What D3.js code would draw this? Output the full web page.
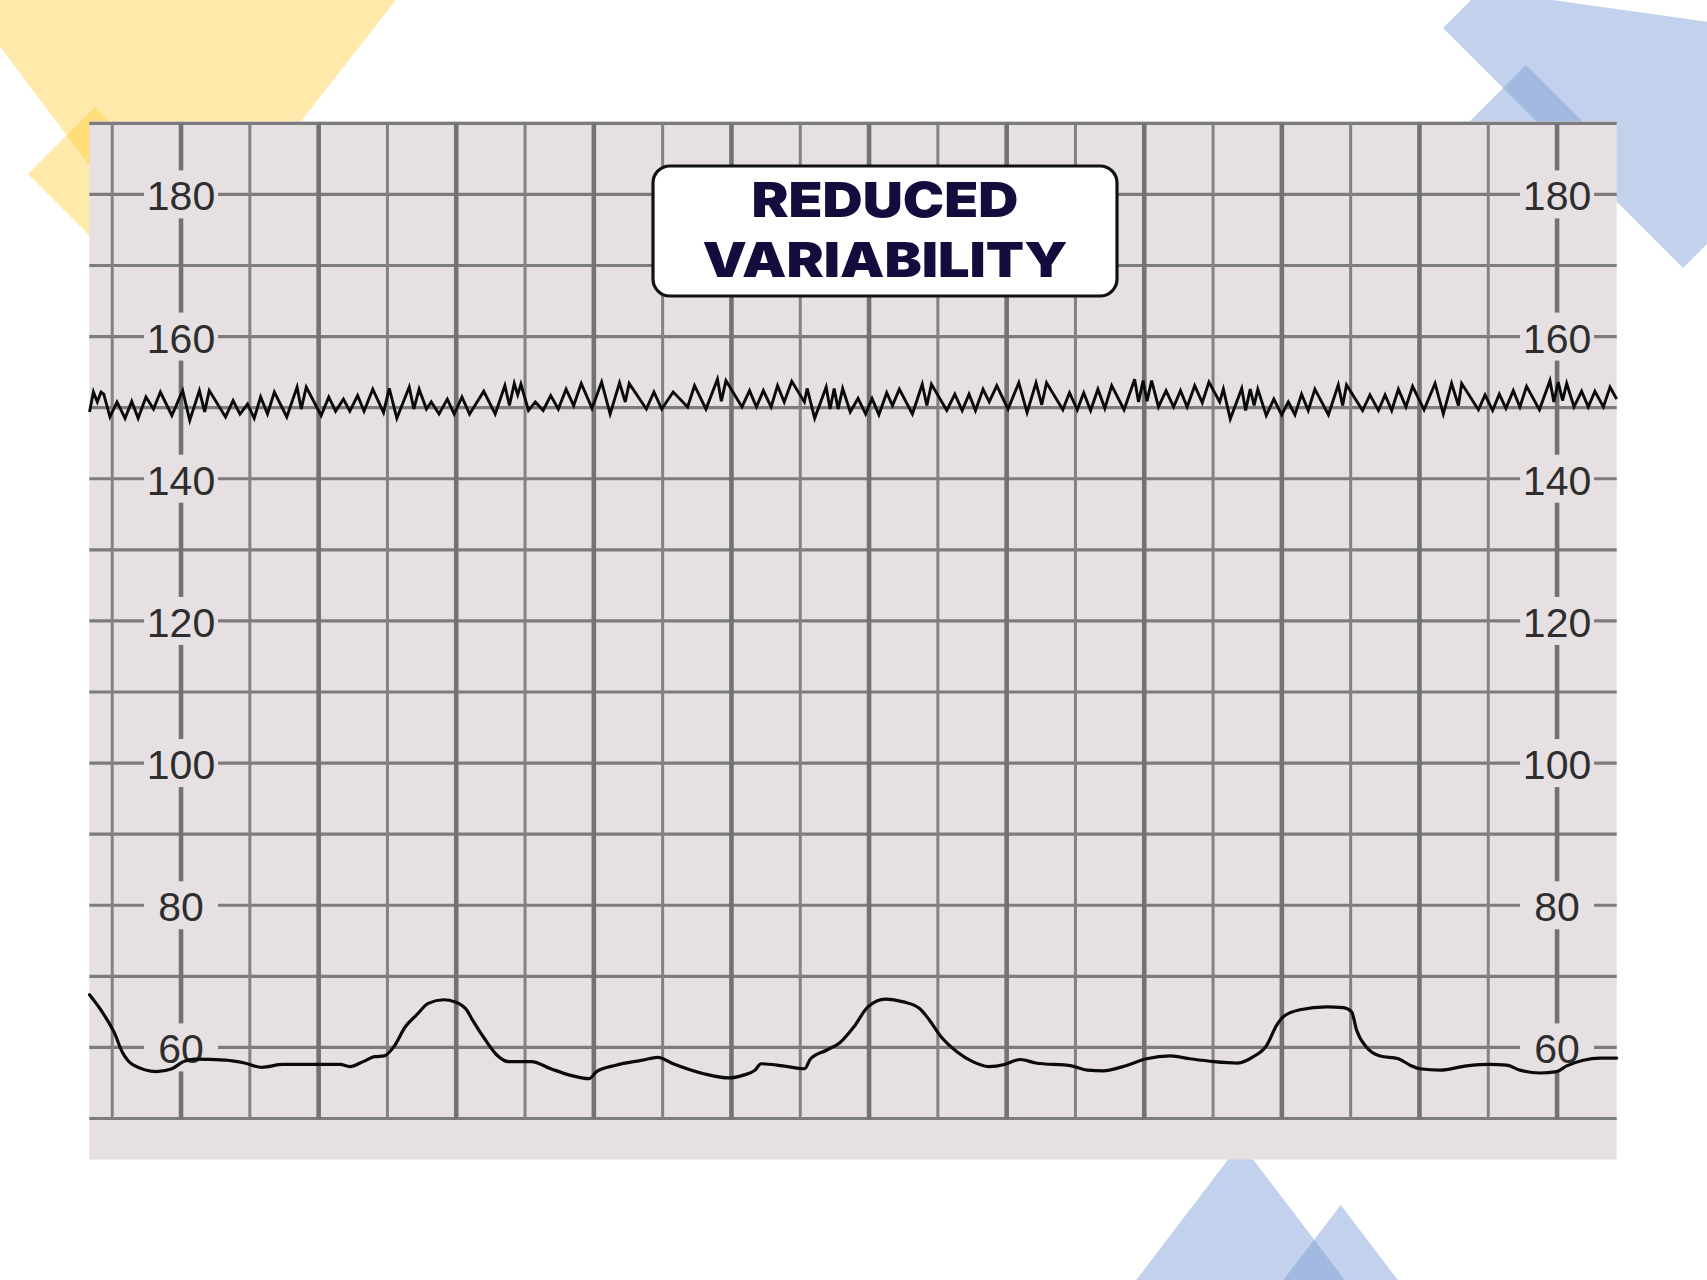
<!DOCTYPE html>
<html>
<head>
<meta charset="utf-8">
<script src="https://cdn.jsdelivr.net/npm/d3@7"></script>
<style>
  html, body { margin: 0; padding: 0; background: #ffffff; }
  svg { display: block; }
</style>
</head>
<body>
<svg id="chart" width="1707" height="1280"></svg>
<script>
// ---------- DATA ----------
const titleLines = ["REDUCED", "VARIABILITY"];
const bpmLabels = [60, 80, 100, 120, 140, 160, 180];
const bpmGrid = [50, 60, 70, 80, 90, 100, 110, 120, 130, 140, 150, 160, 170, 180, 190];
const timeGrid = [30, 60, 90, 120, 150, 180, 210, 240, 270, 300, 330, 360, 390, 420, 450, 480, 510, 540, 570, 600, 630, 660];
const labelTimes = [60, 660];

// FHR trace (seconds, bpm)
const fhrTime = [20.1,21.8,23.5,25.1,26.3,29.0,32.1,35.6,38.5,41.3,44.7,48.0,51.0,56.0,60.7,63.8,68.0,70.3,72.3,79.4,82.7,85.7,89.0,91.9,94.7,97.7,100.7,106.1,110.6,112.4,114.6,121.1,124.4,127.4,130.8,133.6,137.0,139.8,143.6,148.3,150.8,154.1,159.5,161.5,163.8,167.0,169.1,172.5,176.1,179.1,182.5,185.8,192.0,197.0,201.2,203.2,205.3,206.8,208.2,211.5,214.5,217.9,221.2,224.5,227.9,231.2,234.5,239.2,243.4,247.1,251.2,253.7,255.4,262.9,266.2,269.6,274.6,280.9,283.9,288.9,293.9,295.6,297.6,304.6,307.9,310.9,313.9,317.3,320.1,323.0,326.3,331.8,333.0,336.3,341.3,343.0,344.8,346.5,348.5,351.8,355.2,358.5,361.3,364.3,367.7,370.2,373.2,378.9,383.2,385.2,387.2,393.9,397.4,400.6,403.6,406.4,409.7,412.4,415.7,420.6,425.3,428.9,432.8,435.3,437.4,444.5,447.4,450.8,453.6,456.6,459.8,462.8,465.8,471.2,475.8,477.5,479.5,481.2,483.2,486.2,489.5,492.8,495.8,498.7,502.0,505.3,508.2,512.9,514.5,517.5,522.5,524.2,526.2,527.9,529.5,533.2,536.5,539.9,542.8,545.7,548.6,551.5,554.4,560.3,564.6,566.5,568.2,575.2,578.4,582.1,585.0,587.9,590.8,594.1,597.0,602.0,606.8,610.4,614.0,617.0,618.4,625.7,628.6,631.9,634.8,637.7,640.9,643.8,646.7,652.3,656.9,658.6,660.5,662.4,664.2,667.4,670.7,673.6,676.5,680.2,683.1,686.0];
const fhrBpm = [149.4,152.2,150.8,152.2,151.9,148.7,150.8,148.5,150.9,148.5,151.5,149.8,152.2,148.9,152.4,148.2,152.4,149.4,152.4,148.7,151.0,149.1,150.5,148.5,151.5,149.1,152.2,148.7,152.9,149.8,152.9,148.9,151.5,149.5,151.2,149.5,151.7,149.5,152.6,149.3,152.7,148.5,152.9,149.8,152.6,149.8,150.8,149.1,151.2,149.1,151.5,149.1,152.3,149.1,153.1,150.3,153.4,151.8,153.3,149.6,150.8,149.6,151.7,149.8,152.6,150.3,153.4,149.9,153.6,149.1,153.5,150.8,153.4,149.8,152.2,149.8,152.2,150.1,153.1,149.8,154.0,150.9,153.8,150.1,152.4,150.1,152.4,150.1,153.1,150.8,153.7,150.8,152.7,148.5,152.9,149.8,152.7,149.8,152.7,149.4,151.3,149.1,151.3,149.0,152.1,150.3,152.6,149.1,153.3,150.3,153.3,149.6,151.9,149.6,151.9,149.6,152.6,150.8,153.1,149.8,153.5,149.3,153.5,150.4,153.5,149.7,152.1,149.7,152.1,149.6,152.6,149.9,153.1,149.7,154.0,150.8,153.8,150.9,153.8,150.1,152.4,150.1,152.4,150.1,153.1,150.7,153.6,150.8,152.6,148.4,152.7,149.6,152.6,150.3,152.6,148.9,151.2,149.0,150.8,149.0,151.9,149.6,152.6,149.0,153.2,150.3,153.2,149.6,151.8,149.6,151.8,149.6,152.6,150.1,153.0,149.7,153.4,149.1,153.4,150.3,153.4,149.7,151.8,149.6,151.9,149.9,152.4,150.1,153.0,149.7,153.8,150.8,153.6,151.0,153.4,150.1,152.3,150.1,152.3,150.1,152.9,151.2];

// Lower trace (seconds, value on the same scale)
const lowTime = [20.1,26.0,31.0,34.3,39.3,49.3,56.0,61.0,66.0,79.4,87.7,95.2,104.4,119.4,129.4,133.6,139.4,144.4,148.6,152.8,157.8,162.8,167.8,174.5,179.5,184.5,187.0,192.8,197.8,202.8,212.8,221.2,229.5,237.9,241.2,249.6,261.2,267.9,274.6,287.9,299.1,305.2,310.3,312.9,322.4,331.9,334.5,341.4,347.4,353.4,359.5,367.2,375.0,381.9,386.2,391.4,398.3,405.2,412.1,419.0,424.1,425.9,432.7,448.3,455.2,462.1,470.7,481.0,491.4,500.0,510.3,520.7,527.6,533.4,537.7,540.6,547.9,559.5,566.8,570.4,572.6,577.0,582.8,590.8,595.9,600.2,609.0,620.6,630.7,638.0,643.8,652.5,659.8,664.2,671.4,678.7,686.0];
const lowVal = [67.4,64.8,62.0,59.4,57.5,56.6,57.0,58.0,58.35,58.2,57.8,57.2,57.6,57.6,57.6,57.3,58.0,58.7,58.8,60.1,62.9,64.6,66.2,66.7,66.4,65.3,63.9,61.0,58.9,58.0,58.0,57.0,56.1,55.6,56.6,57.5,58.2,58.6,57.7,56.3,55.7,56.1,56.8,57.7,57.4,57.0,58.4,59.6,60.7,62.9,65.7,66.8,66.4,65.5,63.9,61.5,59.4,58.0,57.3,57.6,58.2,58.3,57.8,57.4,56.8,56.7,57.3,58.4,58.8,58.4,58.0,57.8,58.7,60.3,63.1,64.3,65.3,65.7,65.6,65.0,62.4,60.0,58.8,58.4,57.5,57.0,56.8,57.4,57.6,57.5,56.8,56.4,56.6,57.4,58.2,58.5,58.5];

// ---------- LAYOUT ----------
const svg = d3.select("#chart");
const panel = { left: 89.3, right: 1616.7, bottom: 1159.5 };
const x = d3.scaleLinear().domain([20, 686]).range([panel.left, panel.right]);
const y = d3.scaleLinear().domain([60, 180]).range([1047.4, 194.4]);
const panelTop = y(190) - 2;

// ---------- BACKGROUND DECORATION ----------
const deco = svg.append("g");
const yellow = "#fecb2e", blue = "#7b9bd5";
function poly(pts, fill, op) {
  deco.append("polygon").attr("points", pts.map(p => p.join(",")).join(" "))
    .attr("fill", fill).attr("fill-opacity", op);
}
poly([[-35,0],[396,0],[176,281]], yellow, 0.4);
poly([[95,107],[162,174],[95,241],[28,174]], yellow, 0.4);
poly([[1443,28],[1481,-10],[1902,49],[1683,268]], blue, 0.45);
poly([[1526,65],[1606,145],[1526,225],[1446,145]], blue, 0.45);
poly([[1240.7,1143],[1360,1300],[1121,1300]], blue, 0.45);
poly([[1340.7,1205],[1413,1300],[1268,1300]], blue, 0.45);

// ---------- PANEL ----------
const paper = "#e7e0e3";
svg.append("rect")
  .attr("x", panel.left).attr("y", panelTop)
  .attr("width", panel.right - panel.left).attr("height", panel.bottom - panelTop)
  .attr("fill", paper);

const grid = svg.append("g");
grid.selectAll("line.h").data(bpmGrid).join("line")
  .attr("class", "h")
  .attr("x1", panel.left).attr("x2", panel.right)
  .attr("y1", d => y(d)).attr("y2", d => y(d))
  .attr("stroke", "#7c7c7c").attr("stroke-width", 3.2);

grid.selectAll("line.v").data(timeGrid).join("line")
  .attr("class", "v")
  .attr("x1", d => x(d)).attr("x2", d => x(d))
  .attr("y1", y(190)).attr("y2", y(50))
  .attr("stroke", d => d % 60 === 0 ? "#727272" : "#828282")
  .attr("stroke-width", d => d % 60 === 0 ? 4.6 : 3);

// ---------- LABELS ----------
const labelData = [];
labelTimes.forEach(t => bpmLabels.forEach(v => labelData.push({ t, v })));
const lab = svg.append("g");
lab.selectAll("rect").data(labelData).join("rect")
  .attr("x", d => x(d.t) - 37).attr("y", d => y(d.v) - 24)
  .attr("width", 74).attr("height", 48)
  .attr("fill", paper);
lab.selectAll("text").data(labelData).join("text")
  .attr("x", d => x(d.t)).attr("y", d => y(d.v) + 16)
  .attr("text-anchor", "middle")
  .attr("font-family", "'Liberation Sans', Arial, sans-serif")
  .attr("font-size", 41)
  .attr("fill", "#2e2e2e")
  .text(d => d.v);

// ---------- TRACES ----------
const fhr = fhrTime.map((t, i) => [t, fhrBpm[i]]);
const low = lowTime.map((t, i) => [t, lowVal[i]]);

svg.append("path")
  .datum(low)
  .attr("d", d3.line().x(d => x(d[0])).y(d => y(d[1])).curve(d3.curveMonotoneX))
  .attr("fill", "none").attr("stroke", "#0a0a0a").attr("stroke-width", 3.2)
  .attr("stroke-linejoin", "round").attr("stroke-linecap", "round");

svg.append("path")
  .datum(fhr)
  .attr("d", d3.line().x(d => x(d[0])).y(d => y(d[1])))
  .attr("fill", "none").attr("stroke", "#0a0a0a").attr("stroke-width", 2.9)
  .attr("stroke-linejoin", "miter").attr("stroke-miterlimit", 4);

// ---------- TITLE BOX ----------
const box = svg.append("g");
box.append("rect")
  .attr("x", 653).attr("y", 166).attr("width", 464).attr("height", 130)
  .attr("rx", 17).attr("ry", 17)
  .attr("fill", "#ffffff").attr("stroke", "#111111").attr("stroke-width", 3.2);
const titleBase = [217, 277];
const titleWidth = [267, 365];
box.selectAll("text").data(titleLines).join("text")
  .attr("x", 885).attr("y", (d, i) => titleBase[i])
  .attr("text-anchor", "middle")
  .attr("font-family", "Inter, 'Open Sans', sans-serif")
  .attr("font-weight", 900)
  .attr("font-size", 48)
  .attr("fill", "#130c3d")
  .attr("textLength", (d, i) => titleWidth[i])
  .attr("lengthAdjust", "spacingAndGlyphs")
  .text(d => d);
</script>
</body>
</html>
